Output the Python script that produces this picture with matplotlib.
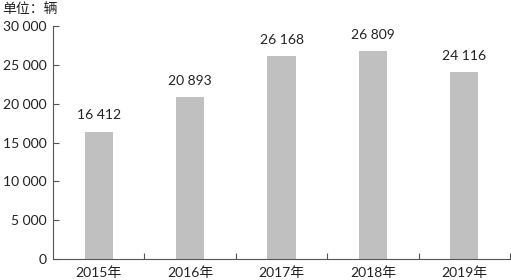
import matplotlib.pyplot as plt
from matplotlib.ticker import FuncFormatter

years = ["2015年", "2016年", "2017年", "2018年", "2019年"]
vehicles = [16412, 20893, 26168, 26809, 24116]
y_ticks = [0, 5000, 10000, 15000, 20000, 25000, 30000]

plt.rcParams["font.family"] = ["Lato", "Noto Sans CJK SC", "DejaVu Sans"]


def fmt(v, pos=None):
    return f"{int(v):,}".replace(",", " ")


fig = plt.figure(figsize=(5.11, 2.80), dpi=100)
ax = fig.add_axes([53 / 511, 21 / 280, 457 / 511, 233 / 280])

x = range(len(years))
bars = ax.bar(x, vehicles, width=0.31, color="#c0c0c0", zorder=2)
for b, v in zip(bars, vehicles):
    ax.text(b.get_x() + b.get_width() / 2, v + 1300, fmt(v),
            ha="center", va="bottom", fontsize=10, color="#222222")

ax.set_xlim(-0.5, len(years) - 0.5)
ax.set_ylim(0, 30000)
ax.set_yticks(y_ticks)
ax.yaxis.set_major_formatter(FuncFormatter(fmt))
ax.set_xticks(list(x))
ax.set_xticklabels(years)
ax.set_xticks([i + 0.5 for i in range(len(years))], minor=True)

ax.tick_params(axis="y", direction="in", length=4, width=0.8, colors="#555555",
               labelcolor="#222222", labelsize=10, pad=4.5)
ax.tick_params(axis="x", which="major", length=0, labelcolor="#222222",
               labelsize=10, pad=5)
ax.tick_params(axis="x", which="minor", direction="in", length=4, width=0.8,
               colors="#555555")

for s in ["top", "right"]:
    ax.spines[s].set_visible(False)
for s in ["left", "bottom"]:
    ax.spines[s].set_color("#555555")
    ax.spines[s].set_linewidth(0.8)

fig.text(0.004, 1 - 9 / 280, "单位：辆", ha="left", va="center",
         fontsize=10, color="#222222")

fig.savefig("out.png", dpi=100)
